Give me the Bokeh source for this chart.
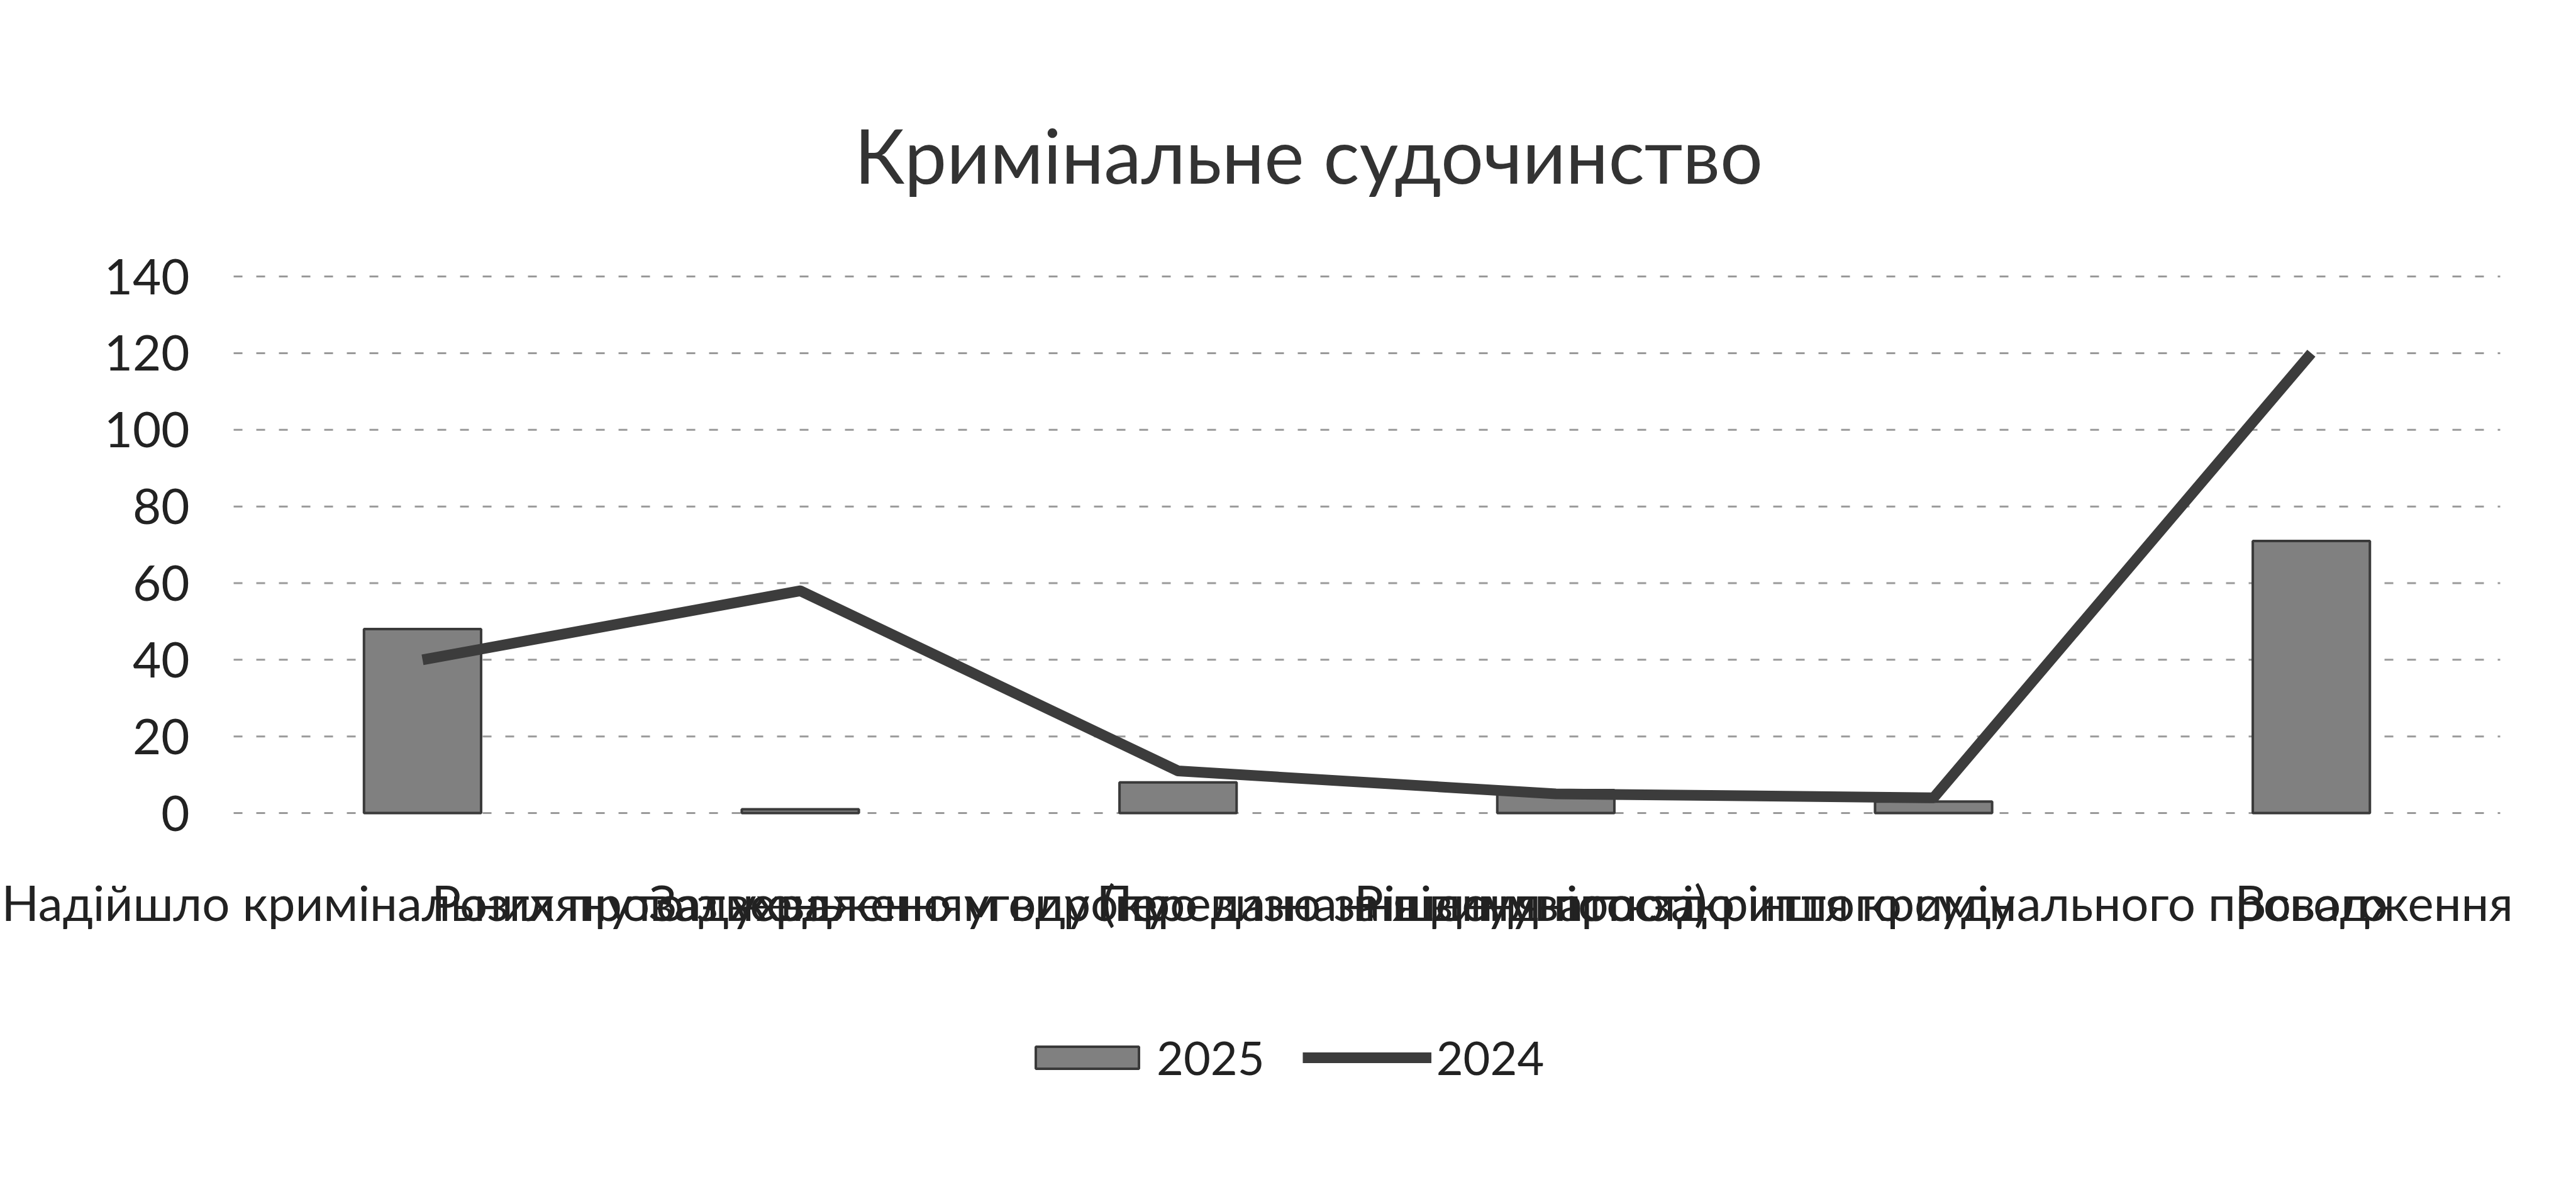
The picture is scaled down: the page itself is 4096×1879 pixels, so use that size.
from bokeh.plotting import figure
from bokeh.models import Legend, LegendItem, Range1d, FixedTicker
from bokeh.embed import file_html
from bokeh.resources import INLINE

categories = [
    "Надійшло кримінальних проваджень",
    "Розглянуто з ухваленням вироку",
    "Затверджено угоду (про визнання винуватості)",
    "Передано за підсудністю до іншого суду",
    "Рішення про закриття кримінального провадження",
    "Всього",
]
values_2025 = [48, 1, 8, 6, 3, 71]
values_2024 = [40, 58, 11, 5, 4, 120]
y_ticks = [0, 20, 40, 60, 80, 100, 120, 140]
series_names = ["2025", "2024"]

FONT = "Lato"

# category slots on a numeric axis: slot i is centred on i
positions = list(range(len(categories)))
first_edge = positions[0] - 0.5
last_edge = positions[-1] + 0.5

p = figure(
    x_range=Range1d(first_edge - 0.6177, last_edge + 0.1748),
    y_range=Range1d(-92.4, 149.7),
    width=4080,
    height=1863,
    output_backend="svg",
    toolbar_location=None,
    min_border_left=0,
    min_border_right=0,
    min_border_top=380,
    min_border_bottom=8,
    outline_line_color=None,
)

p.title.text = "Кримінальне судочинство"
p.title.align = "left"
p.title.text_font = FONT
p.title.text_font_size = "120px"
p.title.text_font_style = "normal"
p.title.text_color = "#333333"
p.title.standoff = 126
p.title.offset = 1358

# horizontal gridlines over the category area only
p.xgrid.grid_line_color = None
p.ygrid.grid_line_color = None
p.segment(
    x0=[first_edge] * len(y_ticks),
    x1=[last_edge] * len(y_ticks),
    y0=y_ticks,
    y1=y_ticks,
    line_color="#9a9a9a",
    line_width=3,
    line_dash="14 22",
)

bars = p.vbar(
    x=positions,
    top=values_2025,
    width=0.31,
    fill_color="#808080",
    line_color="#3a3a3a",
    line_width=4,
)
line = p.line(
    x=positions,
    y=values_2024,
    line_color="#3c3c3c",
    line_width=17,
    line_join="round",
)

p.yaxis.fixed_location = first_edge
p.yaxis.ticker = FixedTicker(ticks=y_ticks)
p.yaxis.axis_line_color = None
p.yaxis.major_tick_line_color = None
p.yaxis.minor_tick_line_color = None
p.yaxis.major_tick_out = 0
p.yaxis.major_label_standoff = 70
p.yaxis.major_label_text_font = FONT
p.yaxis.major_label_text_font_size = "78px"
p.yaxis.major_label_text_color = "#222222"

p.xaxis.fixed_location = 0
p.xaxis.ticker = FixedTicker(ticks=positions)
p.xaxis.major_label_overrides = {i: c for i, c in zip(positions, categories)}
p.xaxis.axis_line_color = None
p.xaxis.major_tick_line_color = None
p.xaxis.minor_tick_line_color = None
p.xaxis.major_tick_out = 0
p.xaxis.major_label_standoff = 94
p.xaxis.major_label_text_font = FONT
p.xaxis.major_label_text_font_size = "78px"
p.xaxis.major_label_text_color = "#222222"

legend = Legend(
    items=[
        LegendItem(label=series_names[0], renderers=[bars]),
        LegendItem(label=series_names[1], renderers=[line]),
    ],
    orientation="horizontal",
    location=(1626, 130),
    label_text_font=FONT,
    label_text_font_size="74px",
    label_text_color="#222222",
    glyph_width=205,
    glyph_height=44,
    spacing=60,
    label_standoff=8,
    border_line_color=None,
    background_fill_alpha=0,
    margin=0,
    padding=0,
)
p.add_layout(legend, "center")

open("out.html", "w").write(file_html(p, INLINE))
